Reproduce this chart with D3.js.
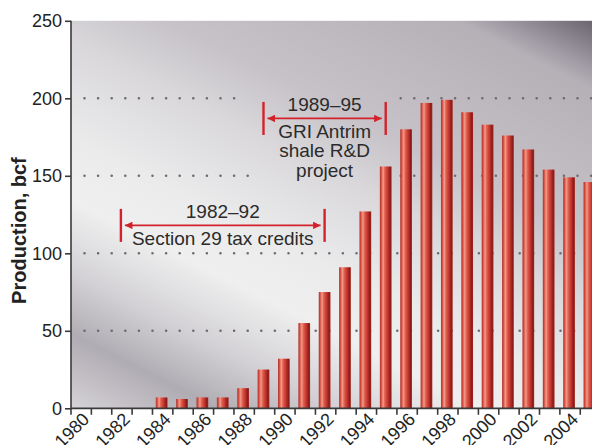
<!DOCTYPE html>
<html>
<head>
<meta charset="utf-8">
<script src="https://cdn.jsdelivr.net/npm/d3@7"></script>
<style>
  html, body { margin: 0; padding: 0; background: #ffffff; }
  svg { display: block; }
  text { font-family: "Liberation Sans", Arial, Helvetica, sans-serif; }
</style>
</head>
<body>
<svg id="chart" width="592" height="445"></svg>
<script>
// Annual production, bcf
const years = [1980, 1981, 1982, 1983, 1984, 1985, 1986, 1987, 1988, 1989,
               1990, 1991, 1992, 1993, 1994, 1995, 1996, 1997, 1998, 1999,
               2000, 2001, 2002, 2003, 2004, 2005];
const production = [null, null, null, null, 7, 6, 7, 7, 13, 25,
                    32, 55, 75, 91, 127, 156, 180, 197, 199, 191,
                    183, 176, 167, 154, 149, 146];

const yTicks = [0, 50, 100, 150, 200, 250];
const gridValues = [50, 100, 150, 200];
const xLabelYears = [1980, 1982, 1984, 1986, 1988, 1990, 1992,
                     1994, 1996, 1998, 2000, 2002, 2004];

// Program periods shown as brackets above the bars
const periodFrom = [1982, 1989];
const periodTo = [1992, 1995];
const periodArrowAt = [118, 187];
const periodTitles = ["1982–92", "1989–95"];
const periodLines = [["Section 29 tax credits"], ["GRI Antrim", "shale R&D", "project"]];

const W = 592, H = 445;
const plotLeft = 71, plotTop = 20.8, plotBottom = 408.3;
const step = 20.37;

const svg = d3.select("#chart");
const defs = svg.append("defs");

// brushed-metal backdrop
const bg = defs.append("linearGradient")
  .attr("id", "bgGrad")
  .attr("gradientUnits", "userSpaceOnUse")
  .attr("x1", plotLeft).attr("y1", plotBottom)
  .attr("x2", plotLeft + 0.45 * 600).attr("y2", plotBottom - 0.89 * 600);
[
  [0.00, "#d6d4d8"],
  [0.05, "#c4c0c6"],
  [0.11, "#b0acb3"],
  [0.20, "#d2d0d4"],
  [0.31, "#efefef"],
  [0.40, "#ebebec"],
  [0.55, "#d9d7da"],
  [0.65, "#c6c2c8"],
  [0.87, "#b4b0b6"],
  [0.895, "#a39ea7"],
  [0.97, "#6c6672"],
  [1.00, "#5e5864"]
].forEach(([o, c]) => bg.append("stop").attr("offset", o).attr("stop-color", c));

// cylindrical shading for the bars
const barGrad = defs.append("linearGradient")
  .attr("id", "barGrad")
  .attr("x1", 0).attr("x2", 1).attr("y1", 0).attr("y2", 0);
[
  [0.00, "#b2322c"],
  [0.10, "#cf463d"],
  [0.22, "#e8806e"],
  [0.30, "#f29a86"],
  [0.40, "#e46a58"],
  [0.55, "#d24a3e"],
  [0.72, "#b8302a"],
  [0.88, "#8e1b18"],
  [1.00, "#a12521"]
].forEach(([o, c]) => barGrad.append("stop").attr("offset", o).attr("stop-color", c));

// scales
const x = d3.scaleBand()
  .domain(years)
  .range([plotLeft, plotLeft + step * years.length])
  .padding(0);
const y = d3.scaleLinear().domain([0, 250]).range([plotBottom, plotTop]);

const barOffset = x.step() * 0.162;
const barWidth = x.step() * 0.575;
const barCenter = yr => x(yr) + barOffset + barWidth / 2;

// plot background
svg.append("rect")
  .attr("x", plotLeft).attr("y", y(250))
  .attr("width", W - plotLeft).attr("height", y(0) - y(250))
  .attr("fill", "url(#bgGrad)");

// annotation layout (pixel offsets relative to the arrow line)
const lineGap = 19.6;
const annFont = 19;
const periods = periodFrom.map((f, i) => {
  const ay = y(periodArrowAt[i]);
  return {
    from: f, to: periodTo[i], title: periodTitles[i], lines: periodLines[i],
    x0: barCenter(f), x1: barCenter(periodTo[i]), ay,
    top: ay - 28, bottom: ay + 19.3 + (periodLines[i].length - 1) * lineGap + 5
  };
});

// dotted gridlines, broken where they pass behind an annotation
const gridStart = plotLeft + 13.5;
const grid = svg.append("g");
gridValues.forEach(v => {
  const gy = y(v);
  let segs = [[gridStart, W]];
  periods.forEach(p => {
    if (gy >= p.top && gy <= p.bottom) {
      // the title row is wider than the bracket, so leave more room there
      const nearTitle = gy < p.ay;
      const g0 = p.x0 - (nearTitle ? 27 : 15), g1 = p.x1 + 15;
      segs = segs.flatMap(([a, b]) => {
        const out = [];
        if (g0 > a) out.push([a, Math.min(b, g0)]);
        if (g1 < b) out.push([Math.max(a, g1), b]);
        return out;
      });
    }
  });
  segs.forEach(([a, b]) => {
    grid.append("line")
      .attr("x1", a).attr("x2", b).attr("y1", gy).attr("y2", gy)
      .attr("stroke", "#6e6a72")
      .attr("stroke-width", 2.6)
      .attr("stroke-linecap", "round")
      .attr("stroke-dasharray", "0 13.6");
  });
});

// bars
const data = years.map((yr, i) => ({ year: yr, value: production[i] }))
  .filter(d => d.value != null);
svg.append("g").selectAll("rect")
  .data(data)
  .join("rect")
  .attr("x", d => x(d.year) + barOffset)
  .attr("width", barWidth)
  .attr("y", d => y(d.value))
  .attr("height", d => y(0) - y(d.value))
  .attr("fill", "url(#barGrad)");

// axes
const axisColor = "#3a3a3a";
const yAxis = svg.append("g")
  .attr("transform", `translate(${plotLeft},0)`)
  .call(d3.axisLeft(y).tickValues(yTicks).tickSize(6).tickPadding(3));
yAxis.select(".domain").attr("stroke", axisColor).attr("stroke-width", 1.6)
  .attr("d", `M0,${y(250)}V${y(0)}`);
yAxis.selectAll(".tick line").attr("stroke", axisColor).attr("stroke-width", 1.6);
yAxis.selectAll(".tick text")
  .attr("font-size", 18).attr("fill", "#222")
  .attr("font-family", "Liberation Sans, Arial, sans-serif");

const xAxis = svg.append("g").attr("transform", `translate(0,${y(0)})`);
xAxis.append("line")
  .attr("x1", plotLeft).attr("x2", W).attr("y1", 0).attr("y2", 0)
  .attr("stroke", axisColor).attr("stroke-width", 1.8);
xAxis.selectAll("line.tick")
  .data(years)
  .join("line")
  .attr("class", "tick")
  .attr("x1", d => x(d)).attr("x2", d => x(d))
  .attr("y1", 0).attr("y2", 6.5)
  .attr("stroke", axisColor).attr("stroke-width", 1.6);
xAxis.selectAll("text")
  .data(xLabelYears)
  .join("text")
  .attr("transform", d => `translate(${x(d) + x.step() - 1},${12}) rotate(-45)`)
  .attr("text-anchor", "end")
  .attr("font-size", 18)
  .attr("fill", "#222")
  .text(d => d);

// y-axis title
svg.append("text")
  .attr("transform", `translate(25.5,${(y(0) + y(250)) / 2 + 16}) rotate(-90)`)
  .attr("text-anchor", "middle")
  .attr("font-size", 20)
  .attr("font-weight", "bold")
  .attr("fill", "#222")
  .text("Production, bcf");

// period brackets
const red = "#d3222c";
defs.append("marker")
  .attr("id", "arrowHead")
  .attr("viewBox", "0 0 10 10")
  .attr("refX", 10).attr("refY", 5)
  .attr("markerWidth", 4.6).attr("markerHeight", 4.2)
  .attr("markerUnits", "strokeWidth")
  .attr("orient", "auto-start-reverse")
  .append("path")
  .attr("d", "M0,0L10,5L0,10Z")
  .attr("fill", red);

const ann = svg.append("g");
periods.forEach(p => {
  const g = ann.append("g");
  [p.x0, p.x1].forEach(bx => {
    g.append("line")
      .attr("x1", bx).attr("x2", bx)
      .attr("y1", p.ay - 16.5).attr("y2", p.ay + 16.5)
      .attr("stroke", red).attr("stroke-width", 2.4);
  });
  g.append("line")
    .attr("x1", p.x0 + 4).attr("x2", p.x1 - 4)
    .attr("y1", p.ay).attr("y2", p.ay)
    .attr("stroke", red).attr("stroke-width", 1.8)
    .attr("marker-start", "url(#arrowHead)")
    .attr("marker-end", "url(#arrowHead)");
  const cx = (p.x0 + p.x1) / 2;
  g.append("text")
    .attr("x", cx).attr("y", p.ay - 7.4)
    .attr("text-anchor", "middle")
    .attr("font-size", annFont).attr("fill", "#2b2b2b")
    .text(p.title);
  p.lines.forEach((t, i) => {
    g.append("text")
      .attr("x", cx).attr("y", p.ay + 19.3 + i * lineGap)
      .attr("text-anchor", "middle")
      .attr("font-size", annFont).attr("fill", "#2b2b2b")
      .text(t);
  });
});
</script>
</body>
</html>
